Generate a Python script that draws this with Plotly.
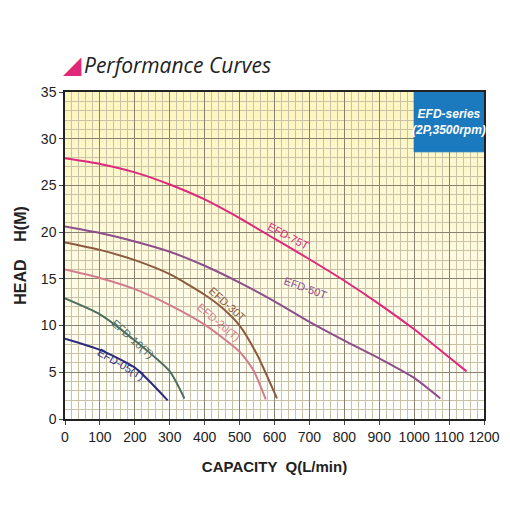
import plotly.graph_objects as go

# pump curves: capacity (L/min) vs head (m)
q_75 = [0, 100, 200, 300, 400, 500, 600, 700, 800, 900, 1000, 1100, 1150]
h_75 = [27.9, 27.3, 26.4, 25.1, 23.5, 21.5, 19.3, 17.1, 14.8, 12.3, 9.6, 6.6, 5.1]
q_50 = [0, 100, 200, 300, 400, 500, 600, 700, 800, 900, 1000, 1075]
h_50 = [20.6, 19.9, 19.0, 17.9, 16.4, 14.6, 12.6, 10.4, 8.4, 6.5, 4.4, 2.2]
q_30 = [0, 100, 200, 300, 400, 450, 500, 550, 607]
h_30 = [18.9, 18.1, 17.0, 15.5, 13.3, 11.9, 10.0, 6.9, 2.2]
q_20 = [0, 100, 200, 300, 400, 500, 540, 575]
h_20 = [16.0, 15.1, 13.9, 12.2, 10.1, 7.2, 5.2, 2.1]
q_10 = [0, 100, 200, 300, 342]
h_10 = [12.9, 11.2, 8.4, 5.1, 2.2]
q_05 = [0, 100, 200, 294]
h_05 = [8.6, 7.4, 5.5, 2.0]

series = [
    ("EFD-75T", q_75, h_75, "#e0287a", 640, 19.6, 28),
    ("EFD-50T", q_50, h_50, "#8e4e8c", 690, 14.0, 20),
    ("EFD-30T", q_30, h_30, "#8c5a3e", 465, 12.3, 42),
    ("EFD-20(T)", q_20, h_20, "#d27c8c", 440, 10.4, 40),
    ("EFD-10(T)", q_10, h_10, "#4e6e5e", 195, 8.6, 42),
    ("EFD-05(T)", q_05, h_05, "#2c2a7c", 160, 5.9, 30),
]

fig = go.Figure()

# yellow-to-white background bands
n = 24
for i in range(n):
    t = i / (n - 1)
    r, g, b = 253 + 2 * (1 - t), 246 + 9 * (1 - t), 190 + 65 * (1 - t)
    fig.add_shape(type="rect", xref="x", yref="y", x0=0, x1=1200,
                  y0=35 * i / n, y1=35 * (i + 1) / n, layer="below",
                  line_width=0, fillcolor=f"rgb({int(r)},{int(g)},{int(b)})")

for name, q, h, col, lx, ly, ang in series:
    fig.add_trace(go.Scatter(x=q, y=h, mode="lines",
                             line=dict(color=col, width=2, shape="spline", smoothing=0.6),
                             name=name, showlegend=False))
    fig.add_annotation(x=lx, y=ly, text=name, showarrow=False, textangle=ang,
                       font=dict(size=11, color=col, family="Liberation Sans"))

# series box
fig.add_shape(type="rect", xref="x", yref="y", x0=1000, x1=1200, y0=28.6, y1=35,
              fillcolor="#1b79be", line=dict(color="#1b79be", width=1))
fig.add_annotation(x=1100, y=31.8, text="<b><i>EFD-series<br>(2P,3500rpm)</i></b>", showarrow=False,
                   font=dict(size=12, color="white", family="Liberation Sans"))

# title with triangle
fig.add_annotation(xref="paper", yref="paper", x=-0.01, y=1.13, xanchor="left", showarrow=False,
                   text="<span style='color:#e0287a'>◢</span>", font=dict(size=24, family="DejaVu Sans"))
fig.add_annotation(xref="paper", yref="paper", x=0.04, y=1.13, xanchor="left", showarrow=False,
                   text="<i>Performance Curves</i>", font=dict(size=21, color="#222", family="Open Sans"))

ax = dict(showline=True, linecolor="#222", linewidth=1.5, ticks="outside", ticklen=4,
          gridcolor="#8a8270", gridwidth=1, zeroline=False, mirror=True, automargin=False,
          tickfont=dict(size=14, color="#222", family="Liberation Sans"))
fig.update_xaxes(ax, range=[0, 1200], dtick=100,
                 minor=dict(dtick=20, showgrid=True, gridcolor="#c9c2a6", gridwidth=0.6),
                 title=dict(text="<b>CAPACITY  Q(L/min)</b>", font=dict(size=15, color="#222"), standoff=18))
fig.update_yaxes(ax, range=[0, 35], dtick=5,
                 minor=dict(dtick=1, showgrid=True, gridcolor="#c9c2a6", gridwidth=0.6),
                 title=dict(text="<b>HEAD    H(M)</b>", font=dict(size=16, color="#222"), standoff=10))
fig.update_layout(width=510, height=510, margin=dict(l=57, r=34, t=84, b=99),
                  paper_bgcolor="white", plot_bgcolor="white",
                  font=dict(family="Liberation Sans"))
fig.write_html("out.html")
